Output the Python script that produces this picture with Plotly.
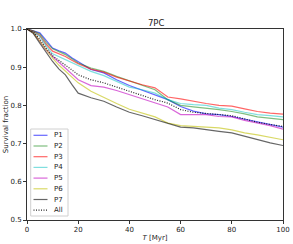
import plotly.graph_objects as go

T = [0, 2.5, 5, 7.5, 10, 12.5, 15, 17.5, 20, 25, 30, 35, 40, 45, 50, 55, 60, 65, 70, 75, 80, 85, 90, 95, 100]

P1 = [1.0, 0.996, 0.990, 0.970, 0.950, 0.943, 0.937, 0.925, 0.915, 0.894, 0.885, 0.867, 0.852, 0.840, 0.828, 0.815, 0.797, 0.785, 0.778, 0.776, 0.771, 0.764, 0.758, 0.750, 0.743]
P2 = [1.0, 0.995, 0.987, 0.965, 0.948, 0.940, 0.933, 0.922, 0.911, 0.898, 0.889, 0.876, 0.865, 0.854, 0.841, 0.815, 0.800, 0.796, 0.793, 0.789, 0.784, 0.778, 0.770, 0.767, 0.763]
P3 = [1.0, 0.994, 0.983, 0.960, 0.942, 0.935, 0.928, 0.918, 0.909, 0.895, 0.887, 0.874, 0.863, 0.854, 0.846, 0.822, 0.817, 0.810, 0.805, 0.800, 0.798, 0.791, 0.784, 0.780, 0.777]
P4 = [1.0, 0.993, 0.981, 0.955, 0.935, 0.927, 0.920, 0.912, 0.904, 0.889, 0.878, 0.863, 0.848, 0.841, 0.832, 0.815, 0.805, 0.802, 0.800, 0.793, 0.789, 0.782, 0.776, 0.773, 0.770]
P5 = [1.0, 0.990, 0.968, 0.945, 0.928, 0.913, 0.898, 0.882, 0.867, 0.852, 0.848, 0.839, 0.828, 0.819, 0.806, 0.796, 0.776, 0.776, 0.776, 0.771, 0.770, 0.761, 0.754, 0.747, 0.738]
P6 = [1.0, 0.990, 0.968, 0.945, 0.924, 0.905, 0.889, 0.873, 0.859, 0.837, 0.820, 0.805, 0.790, 0.780, 0.770, 0.754, 0.747, 0.745, 0.743, 0.741, 0.736, 0.728, 0.723, 0.717, 0.710]
P7 = [1.0, 0.988, 0.963, 0.938, 0.915, 0.895, 0.880, 0.855, 0.832, 0.820, 0.811, 0.796, 0.782, 0.773, 0.763, 0.752, 0.743, 0.741, 0.736, 0.732, 0.728, 0.719, 0.710, 0.702, 0.695]
ALL = [1.0, 0.992, 0.974, 0.950, 0.930, 0.918, 0.907, 0.893, 0.880, 0.867, 0.859, 0.848, 0.837, 0.825, 0.815, 0.806, 0.789, 0.782, 0.778, 0.776, 0.773, 0.764, 0.756, 0.750, 0.745]

NAMES = ["P1", "P2", "P3", "P4", "P5", "P6", "P7", "All"]
VALUES = [P1, P2, P3, P4, P5, P6, P7, ALL]
COLORS = ["rgba(0,0,255,0.6)", "rgba(0,128,0,0.5)", "rgba(255,0,0,0.6)", "rgba(0,191,191,0.5)",
          "rgba(191,0,191,0.6)", "rgba(191,191,0,0.6)", "rgba(0,0,0,0.6)", "rgba(0,0,0,0.85)"]
DASHES = ["solid"] * 7 + ["1px,1.5px"]

fig = go.Figure()
for name, ys, col, dash in zip(NAMES, VALUES, COLORS, DASHES):
    fig.add_trace(go.Scatter(x=T, y=ys, mode="lines", name=name, showlegend=False,
                             line=dict(color=col, width=1.2, dash=dash)))

# plot area in pixels: x 27..283, y 29..220
L, R, TOP, BOT = 27, 283, 29, 220
def px(x):
    return (x - L) / (R - L)
def py(y):
    return (BOT - y) / (BOT - TOP)

shapes = []
annotations = []
# legend box
shapes.append(dict(type="rect", xref="paper", yref="paper",
                   x0=px(30.7), x1=px(68), y0=py(216), y1=py(129),
                   line=dict(color="#d0d0d0", width=1), fillcolor="rgba(255,255,255,0.85)",
                   layer="above"))
for i, (name, col, dash) in enumerate(zip(NAMES, COLORS, DASHES)):
    yc = 135.3 + i * 10.7
    shapes.append(dict(type="line", xref="paper", yref="paper",
                       x0=px(33.5), x1=px(47.5), y0=py(yc), y1=py(yc),
                       line=dict(color=col, width=1.2, dash=dash), layer="above"))
    annotations.append(dict(xref="paper", yref="paper", x=px(51.5), y=py(yc),
                            xanchor="left", yanchor="middle", text=name, showarrow=False,
                            font=dict(size=7, color="#222")))

axis_common = dict(showgrid=False, zeroline=False, showline=True, mirror=True,
                   linecolor="#333", linewidth=1, ticks="outside", ticklen=3,
                   tickcolor="#333", tickfont=dict(size=7, color="#222"), automargin=False)

fig.update_layout(
    width=293, height=244,
    margin=dict(l=L, r=293 - R, t=TOP, b=244 - BOT),
    paper_bgcolor="white", plot_bgcolor="white",
    font=dict(family="DejaVu Sans", color="#222"),
    title=dict(text="7PC", x=0.533, xanchor="center", y=0.905, yanchor="middle",
               font=dict(size=8.5)),
    xaxis=dict(range=[0, 100], tickvals=[0, 20, 40, 60, 80, 100],
               title=dict(text="<i>T</i> [Myr]", font=dict(size=7), standoff=1),
               **axis_common),
    yaxis=dict(range=[0.5, 1.0], tickvals=[0.5, 0.6, 0.7, 0.8, 0.9, 1.0],
               tickformat=".1f",
               title=dict(text="Survival fraction", font=dict(size=7), standoff=1),
               **axis_common),
    shapes=shapes,
    annotations=annotations,
    showlegend=False,
)

fig.write_html("out.html", config={"displayModeBar": False},
               post_script="document.body.style.margin='0';document.body.style.padding='0';"
                           "document.documentElement.style.overflow='hidden';")
